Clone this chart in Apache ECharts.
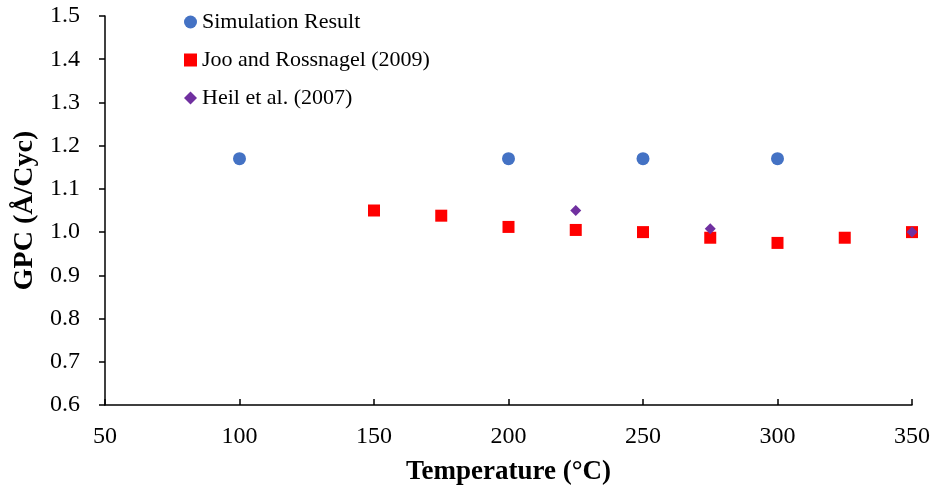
<!DOCTYPE html>
<html>
<head>
<meta charset="utf-8">
<script src="https://cdn.jsdelivr.net/npm/echarts@6/dist/echarts.min.js"></script>
<style>html,body{margin:0;padding:0;background:#fff;}#c{width:937px;height:491px;}</style>
</head>
<body>
<div id="c"></div>
<script>
const seriesNames = ['Simulation Result', 'Joo and Rossnagel (2009)', 'Heil et al. (2007)'];
const simulation = [[100, 1.17], [200, 1.17], [250, 1.17], [300, 1.17]];
const joo = [[150, 1.05], [175, 1.038], [200, 1.012], [225, 1.005], [250, 1.0], [275, 0.987], [300, 0.975], [325, 0.987], [350, 1.0]];
const heil = [[225, 1.05], [275, 1.008], [350, 1.0]];
const xAxisName = 'Temperature (°C)';
const yAxisName = 'GPC (Å/Cyc)';

const font = 'Liberation Serif';
const chart = echarts.init(document.getElementById('c'));
chart.setOption({
  animation: false,
  backgroundColor: '#fff',
  grid: {left: 105, right: 25, top: 16, bottom: 86},
  legend: {
    orient: 'vertical', left: 179, top: 6,
    itemWidth: 13, itemHeight: 13, itemGap: 16, itemTextGap: 6,
    textStyle: {fontFamily: font, fontSize: 22, color: '#000'},
    data: [
      {name: seriesNames[0], icon: 'circle'},
      {name: seriesNames[1], icon: 'rect'},
      {name: seriesNames[2], icon: 'diamond'}
    ]
  },
  xAxis: {
    type: 'value', min: 50, max: 350, interval: 50,
    name: xAxisName, nameLocation: 'middle', nameGap: 54,
    nameTextStyle: {fontFamily: font, fontSize: 27, fontWeight: 'bold', color: '#000'},
    axisLine: {lineStyle: {color: '#000', width: 1.5}},
    axisTick: {inside: true, length: 6, lineStyle: {color: '#000', width: 1.5}},
    axisLabel: {fontFamily: font, fontSize: 24, color: '#000', margin: 20},
    splitLine: {show: false}
  },
  yAxis: {
    type: 'value', min: 0.6, max: 1.5, interval: 0.1,
    name: yAxisName, nameLocation: 'middle', nameGap: 58, nameRotate: 90,
    nameTextStyle: {fontFamily: font, fontSize: 28, fontWeight: 'bold', color: '#000'},
    axisLine: {show: true, lineStyle: {color: '#000', width: 1.5}},
    axisTick: {show: true, inside: false, length: 6, lineStyle: {color: '#000', width: 1.5}},
    axisLabel: {fontFamily: font, fontSize: 24, color: '#000', margin: 25, formatter: v => v.toFixed(1)},
    splitLine: {show: false}
  },
  series: [
    {name: seriesNames[0], type: 'scatter', symbol: 'circle', symbolSize: 13, data: simulation, itemStyle: {color: '#4472C4', opacity: 1}},
    {name: seriesNames[1], type: 'scatter', symbol: 'rect', symbolSize: 12, data: joo, itemStyle: {color: '#FF0000', opacity: 1}},
    {name: seriesNames[2], type: 'scatter', symbol: 'diamond', symbolSize: 11, data: heil, itemStyle: {color: '#7030A0', opacity: 1}}
  ]
});
</script>
</body>
</html>
